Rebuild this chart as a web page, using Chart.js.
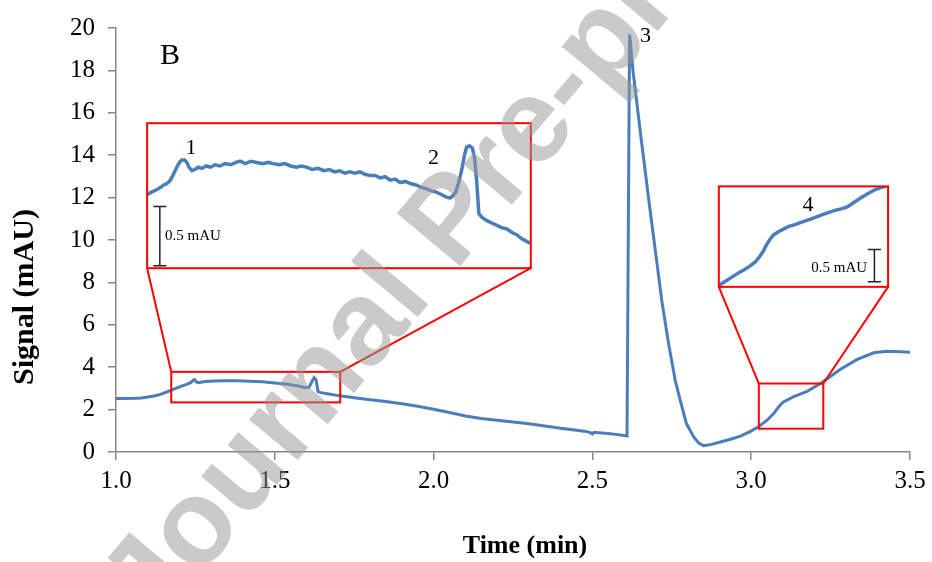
<!DOCTYPE html>
<html>
<head>
<meta charset="utf-8">
<script src="https://cdn.jsdelivr.net/npm/chart.js@4.4.1/dist/chart.umd.min.js"></script>
<style>
html,body{margin:0;padding:0;background:#fff;}
#wrap{width:932px;height:562px;position:relative;}
</style>
</head>
<body>
<div id="wrap"><canvas id="c"></canvas></div>
<script>
// ---------- data ----------
const mainTime = [1.00,1.03,1.06,1.08,1.10,1.12,1.14,1.16,1.18,1.20,1.22,1.235,1.243,1.248,1.253,1.26,1.28,1.31,1.34,1.38,1.42,1.46,1.50,1.54,1.57,1.595,1.608,1.616,1.624,1.630,1.636,1.645,1.67,1.70,1.75,1.80,1.85,1.90,1.95,2.00,2.05,2.10,2.15,2.20,2.25,2.30,2.35,2.40,2.45,2.48,2.495,2.50,2.505,2.52,2.55,2.58,2.605,2.609,2.617,2.628,2.650,2.680,2.719,2.740,2.761,2.777,2.796,2.819,2.835,2.850,2.875,2.903,2.935,2.966,2.995,3.024,3.050,3.070,3.085,3.100,3.134,3.176,3.223,3.281,3.334,3.386,3.428,3.470,3.500];
const mainSignal = [2.52,2.52,2.53,2.55,2.59,2.64,2.72,2.83,2.95,3.07,3.18,3.27,3.38,3.41,3.30,3.27,3.32,3.35,3.36,3.36,3.34,3.31,3.26,3.20,3.13,3.03,3.06,3.30,3.51,3.40,2.85,2.80,2.74,2.66,2.56,2.46,2.38,2.28,2.16,2.02,1.86,1.70,1.58,1.50,1.42,1.33,1.23,1.12,1.03,0.97,0.90,0.85,0.93,0.91,0.87,0.82,0.77,0.76,19.70,17.96,15.20,11.60,7.09,5.10,3.36,2.41,1.34,0.71,0.42,0.30,0.36,0.47,0.60,0.75,0.95,1.20,1.50,1.80,2.10,2.35,2.61,2.86,3.28,3.90,4.37,4.68,4.75,4.73,4.71];

const inset1Time = [1.174,1.180,1.187,1.193,1.197,1.201,1.205,1.208,1.212,1.216,1.219,1.222,1.226,1.229,1.232,1.236,1.240,1.245,1.250,1.256,1.262,1.268,1.275,1.282,1.290,1.297,1.303,1.310,1.318,1.326,1.334,1.342,1.349,1.357,1.365,1.373,1.381,1.388,1.395,1.403,1.411,1.419,1.427,1.434,1.441,1.448,1.455,1.462,1.469,1.476,1.483,1.490,1.497,1.504,1.511,1.518,1.525,1.532,1.540,1.547,1.554,1.561,1.568,1.575,1.582,1.588,1.594,1.598,1.602,1.606,1.610,1.614,1.617,1.621,1.625,1.628,1.631,1.634,1.638,1.645,1.652,1.659,1.666,1.673,1.680,1.687,1.693,1.699,1.705];
const inset1Signal = [3.14,3.16,3.18,3.20,3.22,3.23,3.25,3.28,3.33,3.38,3.41,3.43,3.43,3.41,3.37,3.34,3.35,3.37,3.36,3.38,3.37,3.39,3.38,3.40,3.39,3.41,3.42,3.40,3.42,3.41,3.40,3.41,3.40,3.39,3.40,3.38,3.37,3.38,3.37,3.35,3.36,3.34,3.35,3.33,3.34,3.32,3.33,3.32,3.33,3.31,3.30,3.30,3.28,3.29,3.26,3.27,3.24,3.25,3.23,3.22,3.20,3.19,3.17,3.16,3.14,3.12,3.11,3.13,3.16,3.24,3.34,3.47,3.54,3.55,3.53,3.45,3.25,2.98,2.95,2.92,2.90,2.88,2.86,2.85,2.82,2.80,2.77,2.75,2.73];

const inset2Time = [3.024,3.030,3.036,3.042,3.048,3.055,3.062,3.068,3.073,3.078,3.082,3.086,3.090,3.096,3.102,3.108,3.114,3.120,3.127,3.134,3.142,3.150,3.157,3.164,3.171,3.178,3.186,3.194,3.202,3.210,3.218,3.225];
const inset2Signal = [1.25,1.30,1.35,1.40,1.45,1.50,1.56,1.62,1.70,1.80,1.90,1.98,2.04,2.09,2.13,2.17,2.19,2.22,2.25,2.28,2.32,2.36,2.39,2.42,2.44,2.47,2.54,2.61,2.67,2.73,2.77,2.79];

const xTickValues = [1.0,1.5,2.0,2.5,3.0,3.5];
const yTickValues = [0,2,4,6,8,10,12,14,16,18,20];
const xTitle = 'Time (min)';
const yTitle = 'Signal (mAU)';
const panelLabel = 'B';
const peakNames = ['1','2','3','4'];
const scaleBarText = '0.5 mAU';
const scaleBarValue = 0.5;
const watermarkText = 'Journal Pre-proof';

// ---------- layout / style ----------
const BLUE = '#4A7EBB';
const RED = '#FF0000';
const AXIS = '#868686';
const SERIF = "'Liberation Serif','Times New Roman',serif";

// insets: zoom window (in data units) and placement in main-axis units
const insets = [
  {xId:'x2', yId:'y2', xr:[1.174,1.706], yr:[2.52,3.74], zoomY:[2.34,3.78], place:[1.098,2.306,15.51,8.67],
   bar:{x:1.1916, y:2.54}},
  {xId:'x3', yId:'y3', xr:[3.024,3.227], yr:[1.23,2.79], zoomY:[1.10,3.23], place:[2.898,3.431,12.53,7.79],
   bar:{x:3.2106, y:1.309}}
];
// text annotation anchors in main-axis units
const labelPos = [
  {t:peakNames[0], x:1.236, y:14.08, align:'center', size:22},
  {t:peakNames[1], x:2.000, y:13.59, align:'center', size:22},
  {t:peakNames[2], x:2.667, y:19.35, align:'center', size:22},
  {t:peakNames[3], x:3.179, y:11.38, align:'center', size:22},
  {t:panelLabel,   x:1.1386, y:18.28, align:'left', size:30},
  {t:scaleBarText, x:1.1544, y:9.98, align:'left', size:15},
  {t:scaleBarText, x:3.3652, y:8.49, align:'right', size:15}
];

const pts = (xs, ys) => xs.map((x,i)=>({x:x, y:ys[i]}));

const insetPlugin = {
  id:'insetPlugin',
  afterLayout(chart){
    const mx = chart.scales.x, my = chart.scales.y;
    insets.forEach(ins=>{
      const l = mx.getPixelForValue(ins.place[0]), r = mx.getPixelForValue(ins.place[1]);
      const t = my.getPixelForValue(ins.place[2]), b = my.getPixelForValue(ins.place[3]);
      [chart.scales[ins.xId], chart.scales[ins.yId]].forEach(s=>{
        s.left=l; s.right=r; s.width=r-l; s.top=t; s.bottom=b; s.height=b-t;
        s.configure();
      });
    });
  },
  afterDatasetsDraw(chart){
    const ctx = chart.ctx, mx = chart.scales.x, my = chart.scales.y;
    ctx.save();
    insets.forEach(ins=>{
      const sx = chart.scales[ins.xId], sy = chart.scales[ins.yId];
      const L = sx.left, R = sx.right, T = sy.top, B = sy.bottom;
      const zl = mx.getPixelForValue(ins.xr[0]), zr = mx.getPixelForValue(ins.xr[1]);
      const zt = my.getPixelForValue(ins.zoomY[1]), zb = my.getPixelForValue(ins.zoomY[0]);
      ctx.strokeStyle = RED; ctx.lineWidth = 2;
      ctx.strokeRect(L, T, R-L, B-T);
      ctx.strokeRect(zl, zt, zr-zl, zb-zt);
      ctx.beginPath();
      ctx.moveTo(L, B); ctx.lineTo(zl, zt);
      ctx.moveTo(R, B); ctx.lineTo(zr, zt);
      ctx.stroke();
      // scale bar (0.5 mAU in the inset's own units)
      const bx = sx.getPixelForValue(ins.bar.x);
      const by0 = sy.getPixelForValue(ins.bar.y), by1 = sy.getPixelForValue(ins.bar.y + scaleBarValue);
      ctx.strokeStyle = '#222'; ctx.lineWidth = 1.5;
      ctx.beginPath();
      ctx.moveTo(bx, by0); ctx.lineTo(bx, by1);
      ctx.moveTo(bx-6.5, by0); ctx.lineTo(bx+6.5, by0);
      ctx.moveTo(bx-6.5, by1); ctx.lineTo(bx+6.5, by1);
      ctx.stroke();
    });
    ctx.fillStyle = '#000';
    ctx.textBaseline = 'alphabetic';
    labelPos.forEach(p=>{
      ctx.font = p.size + 'px ' + SERIF;
      ctx.textAlign = p.align;
      ctx.fillText(p.t, mx.getPixelForValue(p.x), my.getPixelForValue(p.y));
    });
    // axis titles
    ctx.font = 'bold 26px ' + SERIF;
    ctx.textAlign = 'center';
    ctx.fillText(xTitle, 525, 553);
    ctx.save();
    ctx.translate(33, 297);
    ctx.rotate(-Math.PI/2);
    ctx.font = 'bold 30px ' + SERIF;
    ctx.fillText(yTitle, 0, 0);
    ctx.restore();
    ctx.restore();
  },
  afterDraw(chart){
    const ctx = chart.ctx;
    ctx.save();
    ctx.translate(155, 630);
    ctx.rotate(-50*Math.PI/180);
    ctx.font = "bold 120px 'Liberation Sans', Arial, sans-serif";
    ctx.fillStyle = 'rgba(150,150,150,0.5)';
    ctx.textAlign = 'left';
    ctx.textBaseline = 'alphabetic';
    ctx.fillText(watermarkText, 0, 0);
    ctx.restore();
  }
};

const hiddenScale = (r, axis) => ({type:'linear', axis:axis, display:false, min:r[0], max:r[1]});

new Chart(document.getElementById('c'), {
  type:'line',
  data:{
    datasets:[
      {data:pts(mainTime, mainSignal), xAxisID:'x', yAxisID:'y', borderColor:BLUE, borderWidth:3, pointRadius:0, tension:0},
      {data:pts(inset1Time, inset1Signal), xAxisID:'x2', yAxisID:'y2', borderColor:BLUE, borderWidth:3.5, pointRadius:0, tension:0},
      {data:pts(inset2Time, inset2Signal), xAxisID:'x3', yAxisID:'y3', borderColor:BLUE, borderWidth:3.5, pointRadius:0, tension:0}
    ]
  },
  options:{
    responsive:true, maintainAspectRatio:false, animation:false, events:[],
    layout:{padding:{top:23, right:22, left:0, bottom:0}},
    plugins:{legend:{display:false}, tooltip:{enabled:false}},
    scales:{
      x:{type:'linear', position:'bottom', min:1, max:3.5,
         afterBuildTicks:s=>{s.ticks = xTickValues.map(v=>({value:v}));},
         afterFit:s=>{s.height = 110;},
         ticks:{callback:v=>Number(v).toFixed(1), font:{family:SERIF, size:25}, color:'#000', padding:6, maxRotation:0, autoSkip:false},
         grid:{display:true, drawOnChartArea:false, drawTicks:true, tickLength:8, color:AXIS, lineWidth:1.5},
         border:{display:true, color:AXIS, width:1.5}},
      y:{type:'linear', position:'left', min:0, max:20,
         afterBuildTicks:s=>{s.ticks = yTickValues.map(v=>({value:v}));},
         afterFit:s=>{s.width = 116;},
         ticks:{font:{family:SERIF, size:25}, color:'#000', padding:13, autoSkip:false},
         grid:{display:true, drawOnChartArea:false, drawTicks:true, tickLength:8, color:AXIS, lineWidth:1.5},
         border:{display:true, color:AXIS, width:1.5}},
      x2:hiddenScale(insets[0].xr,'x'), y2:hiddenScale(insets[0].yr,'y'),
      x3:hiddenScale(insets[1].xr,'x'), y3:hiddenScale(insets[1].yr,'y')
    }
  },
  plugins:[insetPlugin]
});
</script>
</body>
</html>
